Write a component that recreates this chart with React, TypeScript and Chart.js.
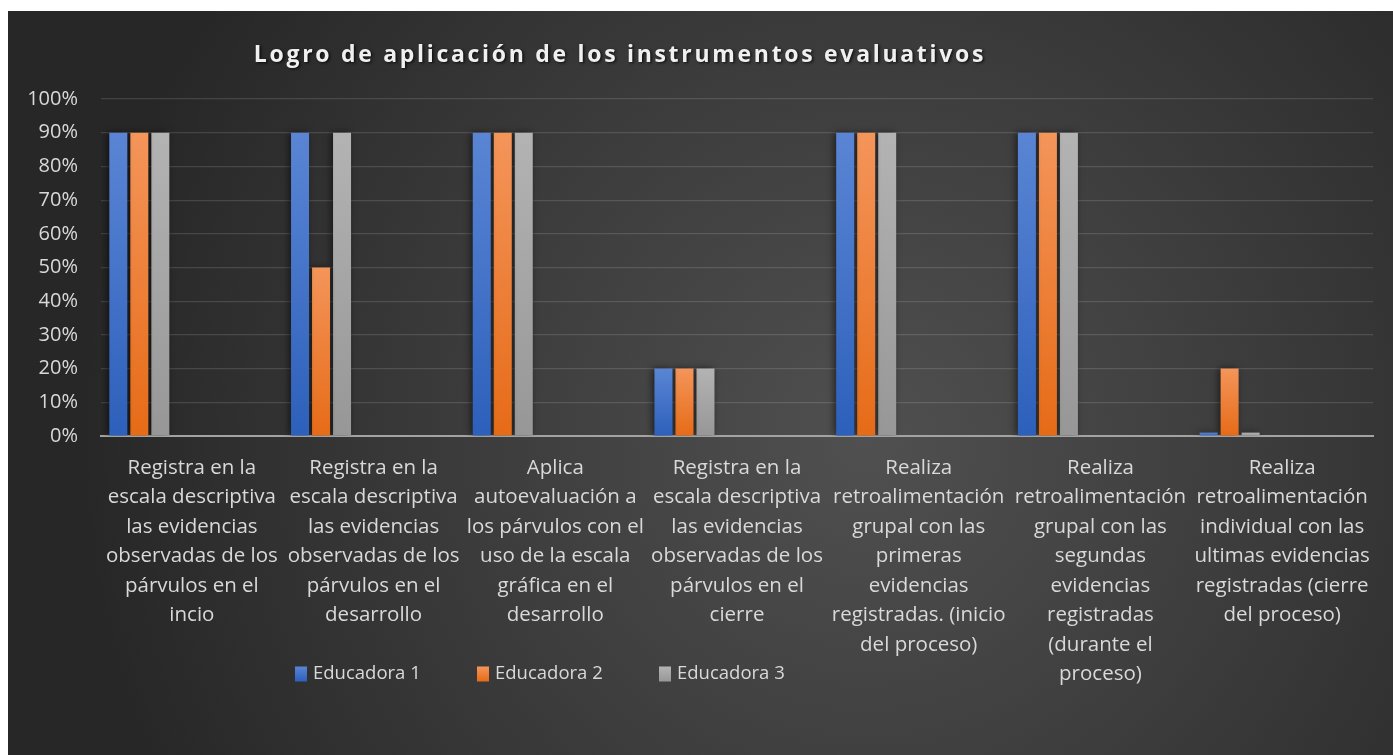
import React, { useEffect, useRef } from "react";
import { Chart, registerables } from "chart.js";

Chart.register(...registerables);

const TITLE = "Logro de aplicación de los instrumentos evaluativos";

const CATEGORIES: string[][] = [
  ["Registra en la", "escala descriptiva", "las evidencias", "observadas de los", "párvulos en el", "incio"],
  ["Registra en la", "escala descriptiva", "las evidencias", "observadas de los", "párvulos en el", "desarrollo"],
  ["Aplica", "autoevaluación a", "los párvulos con el", "uso de la escala", "gráfica en el", "desarrollo"],
  ["Registra en la", "escala descriptiva", "las evidencias", "observadas de los", "párvulos en el", "cierre"],
  ["Realiza", "retroalimentación", "grupal con las", "primeras", "evidencias", "registradas. (inicio", "del proceso)"],
  ["Realiza", "retroalimentación", "grupal con las", "segundas", "evidencias", "registradas", "(durante el", "proceso)"],
  ["Realiza", "retroalimentación", "individual con las", "ultimas evidencias", "registradas (cierre", "del proceso)"],
];

const SERIES_NAMES = ["Educadora 1", "Educadora 2", "Educadora 3"];
const EDUCADORA_1 = [90, 90, 90, 20, 90, 90, 1];
const EDUCADORA_2 = [90, 50, 90, 20, 90, 90, 20];
const EDUCADORA_3 = [90, 90, 90, 20, 90, 90, 1];
const EMPTY_SERIES_COUNT = 5;

const Y_MIN = 0;
const Y_MAX = 100;
const Y_STEP = 10;

const TOP_COLORS = ["#5a85d4", "#f4955a", "#b3b3b3"];
const BOTTOM_COLORS = ["#2d60bb", "#e66b17", "#979797"];

const FONT = '"Open Sans", "Noto Sans", sans-serif';
const TEXT_COLOR = "#d9d9d9";

function barGradient(i: number) {
  return (ctx: any) => {
    const chart = ctx.chart;
    if (!chart.chartArea || ctx.type !== "data") return BOTTOM_COLORS[i];
    const y = chart.scales.y;
    const v = ctx.parsed ? ctx.parsed.y : ctx.raw;
    const top = y.getPixelForValue(v);
    const base = y.getPixelForValue(0);
    if (!isFinite(top) || Math.abs(base - top) < 1) return BOTTOM_COLORS[i];
    const g = chart.ctx.createLinearGradient(0, top, 0, base);
    g.addColorStop(0, TOP_COLORS[i]);
    g.addColorStop(1, BOTTOM_COLORS[i]);
    return g;
  };
}

const shadowPlugin = {
  id: "barShadow",
  beforeDatasetsDraw(chart: any) {
    const c = chart.ctx;
    c.save();
    c.shadowColor = "rgba(0,0,0,0.55)";
    c.shadowBlur = 7;
    c.shadowOffsetX = -2;
    c.shadowOffsetY = 0;
  },
  afterDatasetsDraw(chart: any) {
    chart.ctx.restore();
  },
};

const titlePlugin = {
  id: "customTitle",
  afterDraw(chart: any) {
    const c = chart.ctx;
    c.save();
    c.font = `bold 23px ${FONT}`;
    (c as any).letterSpacing = "2.7px";
    c.fillStyle = "#f0f0f0";
    c.textAlign = "center";
    c.textBaseline = "middle";
    c.shadowColor = "rgba(0,0,0,0.75)";
    c.shadowBlur = 3;
    c.shadowOffsetX = 1.5;
    c.shadowOffsetY = 1.5;
    c.fillText(TITLE, 612, 44);
    c.restore();
  },
};

const LEGEND_BOX_X = [287, 469, 651];

const legendPlugin = {
  id: "customLegend",
  afterDraw(chart: any) {
    const c = chart.ctx;
    c.save();
    const cy = 663;
    SERIES_NAMES.forEach((name, i) => {
      const x = LEGEND_BOX_X[i];
      const g = c.createLinearGradient(0, cy - 7.5, 0, cy + 7.5);
      g.addColorStop(0, TOP_COLORS[i]);
      g.addColorStop(1, BOTTOM_COLORS[i]);
      c.fillStyle = g;
      c.fillRect(x, cy - 7.5, 12, 15);
      c.fillStyle = TEXT_COLOR;
      c.font = `18.5px ${FONT}`;
      c.textAlign = "left";
      c.textBaseline = "middle";
      c.fillText(name, x + 18, cy);
    });
    c.restore();
  },
};

export default function App() {
  const canvasRef = useRef<HTMLCanvasElement | null>(null);

  useEffect(() => {
    if (!canvasRef.current) return;
    const seriesData = [EDUCADORA_1, EDUCADORA_2, EDUCADORA_3];
    const datasets: any[] = seriesData.map((d, i) => ({
      label: SERIES_NAMES[i],
      data: d,
      backgroundColor: barGradient(i),
      borderWidth: 0,
      categoryPercentage: 0.925,
      barPercentage: 0.857,
    }));
    for (let k = 0; k < EMPTY_SERIES_COUNT; k++) {
      datasets.push({
        label: "",
        data: [],
        backgroundColor: "transparent",
        categoryPercentage: 0.925,
        barPercentage: 0.857,
      });
    }

    const chart = new Chart(canvasRef.current, {
      type: "bar",
      data: { labels: CATEGORIES as any, datasets },
      options: {
        animation: false,
        responsive: true,
        maintainAspectRatio: false,
        layout: { padding: { left: 0, top: 88, right: 20, bottom: 0 } },
        plugins: {
          legend: { display: false },
          title: { display: false },
          tooltip: { enabled: false },
        },
        scales: {
          x: {
            offset: true,
            grid: { display: false, drawTicks: false },
            border: { display: true, color: "#a3a3a3", width: 2 },
            ticks: {
              autoSkip: false,
              maxRotation: 0,
              minRotation: 0,
              padding: 17,
              color: TEXT_COLOR,
              font: { family: FONT, size: 20.5, lineHeight: "29.5px" } as any,
            },
            afterFit(scale: any) {
              scale.height = 319;
            },
          },
          y: {
            min: Y_MIN,
            max: Y_MAX,
            grid: { color: "rgba(255,255,255,0.13)", lineWidth: 1.2, drawTicks: false },
            border: { display: false },
            ticks: {
              stepSize: Y_STEP,
              padding: 23,
              color: TEXT_COLOR,
              font: { family: FONT, size: 20 },
              callback: (v: any) => `${v}%`,
            },
            afterFit(scale: any) {
              scale.width = 93;
            },
          },
        },
      },
      plugins: [shadowPlugin, titlePlugin, legendPlugin],
    });
    return () => chart.destroy();
  }, []);

  return (
    <div
      style={{
        position: "absolute",
        left: 8,
        top: 11,
        width: 1385,
        height: 744,
        background:
          "radial-gradient(circle at 62% 58%, #505050 0%, #3f3f3f 35%, #272727 82%)",
      }}
    >
      <canvas ref={canvasRef} />
    </div>
  );
}
